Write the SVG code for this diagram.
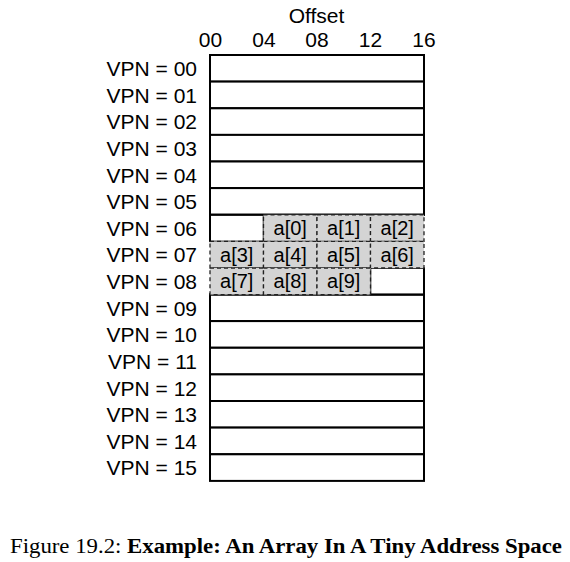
<svg xmlns="http://www.w3.org/2000/svg" width="570" height="562" viewBox="0 0 570 562">
<style>
text{font-family:"Liberation Sans",Arial,sans-serif;font-size:20px;fill:#000}
.lbl{text-anchor:end;font-size:21px}
.mid{text-anchor:middle}
.num{font-size:21px}
.row{fill:#fff;stroke:#000;stroke-width:2}
.cell{fill:#d4d4d4;stroke:#222;stroke-width:1.3;stroke-dasharray:4 3}
.wcell{fill:#fff;stroke:#000;stroke-width:1.5}
.cap{font-family:"Liberation Serif","Times New Roman",serif;font-size:20px}
</style>
<rect width="570" height="562" fill="#fff"/>
<g id="axis">
<text class="mid num" x="316.5" y="23">Offset</text>
<text class="mid num" x="210.5" y="47">00</text>
<text class="mid num" x="264" y="47">04</text>
<text class="mid num" x="317" y="47">08</text>
<text class="mid num" x="370.5" y="47">12</text>
<text class="mid num" x="424" y="47">16</text>
</g>
<g id="rows">
<rect class="row" x="210" y="55" width="214" height="26.6"/>
<rect class="row" x="210" y="81.6" width="214" height="26.6"/>
<rect class="row" x="210" y="108.3" width="214" height="26.6"/>
<rect class="row" x="210" y="134.9" width="214" height="26.6"/>
<rect class="row" x="210" y="161.5" width="214" height="26.6"/>
<rect class="row" x="210" y="188.1" width="214" height="26.6"/>
<rect class="row" x="210" y="294.5" width="214" height="26.6"/>
<rect class="row" x="210" y="321.1" width="214" height="26.6"/>
<rect class="row" x="210" y="347.8" width="214" height="26.6"/>
<rect class="row" x="210" y="374.4" width="214" height="26.6"/>
<rect class="row" x="210" y="401" width="214" height="26.6"/>
<rect class="row" x="210" y="427.6" width="214" height="26.6"/>
<rect class="row" x="210" y="454.3" width="214" height="26.6"/>
</g>
<g id="free">
<rect class="wcell" x="210" y="214.8" width="53.5" height="26.6"/>
<rect class="wcell" x="370.5" y="268" width="53.5" height="26.6"/>
<line x1="209" y1="214.8" x2="425" y2="214.8" stroke="#000" stroke-width="2"/>
<line x1="209" y1="294.5" x2="425" y2="294.5" stroke="#000" stroke-width="2"/>
<line x1="210" y1="214" x2="210" y2="241.4" stroke="#000" stroke-width="2"/>
<line x1="424" y1="268" x2="424" y2="295" stroke="#000" stroke-width="2"/>
</g>
<g id="array">
<g id="a0"><rect class="cell" x="263.5" y="214.8" width="53.5" height="26.6"/><text class="mid" x="290.2" y="235">a[0]</text></g>
<g id="a1"><rect class="cell" x="317" y="214.8" width="53.5" height="26.6"/><text class="mid" x="343.7" y="235">a[1]</text></g>
<g id="a2"><rect class="cell" x="370.5" y="214.8" width="53.5" height="26.6"/><text class="mid" x="397.2" y="235">a[2]</text></g>
<g id="a3"><rect class="cell" x="210" y="241.4" width="53.5" height="26.6"/><text class="mid" x="236.7" y="261.6">a[3]</text></g>
<g id="a4"><rect class="cell" x="263.5" y="241.4" width="53.5" height="26.6"/><text class="mid" x="290.2" y="261.6">a[4]</text></g>
<g id="a5"><rect class="cell" x="317" y="241.4" width="53.5" height="26.6"/><text class="mid" x="343.7" y="261.6">a[5]</text></g>
<g id="a6"><rect class="cell" x="370.5" y="241.4" width="53.5" height="26.6"/><text class="mid" x="397.2" y="261.6">a[6]</text></g>
<g id="a7"><rect class="cell" x="210" y="268" width="53.5" height="26.6"/><text class="mid" x="236.7" y="288.2">a[7]</text></g>
<g id="a8"><rect class="cell" x="263.5" y="268" width="53.5" height="26.6"/><text class="mid" x="290.2" y="288.2">a[8]</text></g>
<g id="a9"><rect class="cell" x="317" y="268" width="53.5" height="26.6"/><text class="mid" x="343.7" y="288.2">a[9]</text></g>
</g>
<g id="labels">
<text class="lbl" x="197" y="76">VPN = 00</text>
<text class="lbl" x="197" y="102.6">VPN = 01</text>
<text class="lbl" x="197" y="129.3">VPN = 02</text>
<text class="lbl" x="197" y="155.9">VPN = 03</text>
<text class="lbl" x="197" y="182.5">VPN = 04</text>
<text class="lbl" x="197" y="209.1">VPN = 05</text>
<text class="lbl" x="197" y="235.8">VPN = 06</text>
<text class="lbl" x="197" y="262.4">VPN = 07</text>
<text class="lbl" x="197" y="289">VPN = 08</text>
<text class="lbl" x="197" y="315.6">VPN = 09</text>
<text class="lbl" x="197" y="342.3">VPN = 10</text>
<text class="lbl" x="197" y="368.9">VPN = 11</text>
<text class="lbl" x="197" y="395.5">VPN = 12</text>
<text class="lbl" x="197" y="422.1">VPN = 13</text>
<text class="lbl" x="197" y="448.8">VPN = 14</text>
<text class="lbl" x="197" y="475.4">VPN = 15</text>
</g>
<g id="connectors"/>
<text class="cap" x="10" y="552.5" textLength="552" lengthAdjust="spacingAndGlyphs">Figure 19.2: <tspan font-weight="bold">Example: An Array In A Tiny Address Space</tspan></text>
</svg>
